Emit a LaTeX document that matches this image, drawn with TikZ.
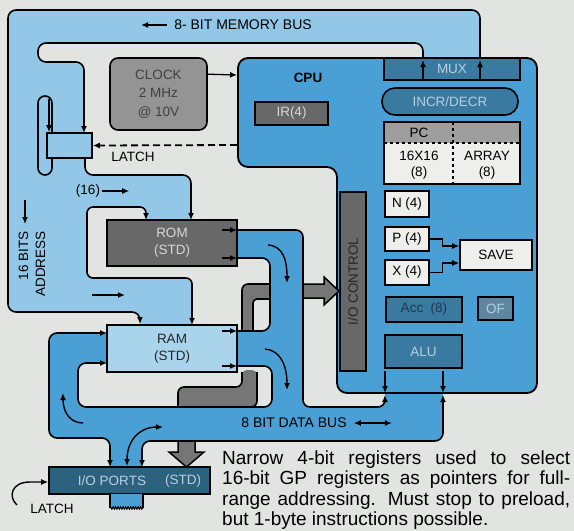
\documentclass[tikz,border=0pt]{standalone}
\usepackage{fontspec}
\setmainfont{Liberation Sans}
\usetikzlibrary{arrows.meta, positioning, calc, decorations.pathmorphing}

\definecolor{paper}{RGB}{226,228,225}
\definecolor{addrblue}{RGB}{146,199,231}
\definecolor{busblue}{RGB}{74,159,213}
\definecolor{ramblue}{RGB}{170,212,236}
\definecolor{regblue}{RGB}{58,121,160}
\definecolor{portblue}{RGB}{45,98,127}
\definecolor{ofblue}{RGB}{92,134,162}
\definecolor{romgray}{RGB}{104,104,104}
\definecolor{clockgray}{RGB}{148,148,148}
\definecolor{bandgray}{RGB}{118,118,118}
\definecolor{pcgray}{RGB}{158,158,158}
\definecolor{boxwhite}{RGB}{238,238,236}
\definecolor{greytext}{RGB}{214,214,214}
\definecolor{palebluetext}{RGB}{182,208,224}
\definecolor{navytext}{RGB}{28,58,82}

\tikzset{
  arr/.style={-{Latex[length=7pt,width=6pt]}},
  rarr/.style={{Latex[length=7pt,width=6pt]}-},
  darr/.style={{Latex[length=7pt,width=6pt]}-{Latex[length=7pt,width=6pt]}},
  box/.style={draw=black, line width=1.6pt, inner sep=0pt, align=center,
    font=\fontsize{13.5}{17}\selectfont},
  busline/.style={draw=black, line width=1.6pt, rounded corners=8pt},
  lbl/.style={inner sep=0pt, align=center, font=\fontsize{13.5}{17}\selectfont},
}

\begin{document}
\begin{tikzpicture}[x=1pt, y=-1pt]
  \useasboundingbox (0,0) rectangle (574,531);
  \fill[paper] (0,0) rectangle (574,531);

  % Address bus area
  \fill[addrblue, rounded corners=8pt] (8,10) -- (480,10) -- (480,70) -- (423,70)
    -- (423,43) -- (38,43) -- (38,62) -- (84,62) -- (84,175) -- (191,175)
    -- (191,232) -- (146,232) -- (146,207) -- (87,207) -- (87,278) -- (192,278)
    -- (192,337) -- (140,337) -- (140,312) -- (8,312) -- cycle;

  % Data bus area
  \fill[busblue, rounded corners=8pt] (228,230) -- (303,230) -- (303,407) -- (385,407)
    -- (385,385) -- (443,385) -- (443,441) -- (142,441) -- (142,475) -- (110,475)
    -- (110,438) -- (49,438) -- (49,333) -- (115,333) -- (115,345) -- (230,345)
    -- (230,331) -- (270,331) -- (270,258) -- (228,258) -- cycle;
  \fill[paper, rounded corners=8pt] (115,363) -- (78,363) -- (78,407) -- (272,407)
    -- (272,366) -- (228,366) -- cycle;

  % I/O bus, passing under the data bus
  \fill[bandgray, rounded corners=5pt] (242,331) -- (242,284) -- (270,284) -- (270,299)
    -- (253,299) -- (253,331) -- cycle;
  \draw[line width=1.6pt, rounded corners=6pt] (270,284) -- (242,284) -- (242,331);
  \draw[line width=1.6pt, rounded corners=4pt] (270,299) -- (253,299) -- (253,331);
  \fill[bandgray, rounded corners=5pt] (242,370) -- (257,370) -- (257,407) -- (178,407)
    -- (178,387) -- (242,387) -- cycle;
  \draw[line width=1.6pt, rounded corners=6pt] (242,372) -- (242,387) -- (178,387) -- (178,407);
  \draw[line width=1.6pt, rounded corners=6pt] (257,372) -- (257,407) -- (245,407);
  \fill[bandgray] (178,441) -- (178,452) -- (169,452) -- (186.5,467) -- (204,452)
    -- (195,452) -- (195,441) -- cycle;
  \draw[line width=1.5pt] (178,441) -- (178,452) -- (169,452) -- (186.5,467) -- (204,452)
    -- (195,452) -- (195,441);

  % CPU
  \draw[fill=busblue, line width=1.8pt, rounded corners=10pt] (238,58) -- (537,58)
    -- (537,393) -- (337,393) -- (337,167) -- (238,167) -- cycle;
  \node[lbl, font=\bfseries\fontsize{13.5}{17}\selectfont] (cpulbl) at (308,78) {CPU};

  % Boxes
  \node[box, fill=clockgray, text=black!75, rounded corners=8pt, minimum width=97pt,
    minimum height=72pt, font=\fontsize{13.5}{18.5}\selectfont] (clock) at (158.5,94)
    {CLOCK\\2 MHz\\@ 10V};
  \node[box, fill=addrblue, rounded corners=7pt, minimum width=14pt, minimum height=79pt]
    (pill) at (45,135.5) {};
  \node[box, fill=addrblue, minimum width=45pt, minimum height=25pt] (latch) at (69.5,145.5) {};
  \node[box, fill=romgray, text=greytext, minimum width=130pt, minimum height=46pt]
    (rom) at (172,243) {ROM\\(STD)};
  \node[box, fill=ramblue, text=black!85, minimum width=130pt, minimum height=47pt]
    (ram) at (172,348.5) {RAM\\(STD)};
  \node[box, fill=portblue, minimum width=161pt, minimum height=27pt] (ports) at (129.5,480.5) {};
  \node[lbl, text=palebluetext] (portsl) at (112,480.5) {I/O PORTS};
  \node[lbl, text=palebluetext] (portss) at (183,480.5) {(STD)};
  \node[box, fill=romgray, text=greytext, minimum width=73pt, minimum height=23pt]
    (ir) at (291.5,113.5) {IR(4)};
  \node[box, fill=romgray, text=black!85, rotate=90, minimum width=179pt, minimum height=26pt]
    (ioctl) at (353,281.5) {I/O CONTROL};
  \node[box, fill=regblue, text=palebluetext, minimum width=136pt, minimum height=22pt]
    (mux) at (452,69) {MUX};
  \node[box, fill=regblue, text=palebluetext, rounded corners=13pt, minimum width=136pt,
    minimum height=27pt] (incdec) at (450,101.5) {INCR/DECR};

  % PC / register array
  \node[box, fill=boxwhite, minimum width=136pt, minimum height=62pt] (pcarr) at (452,153) {};
  \fill[pcgray] (384,122) rectangle (520,143);
  \draw[line width=1.6pt] (384,122) rectangle (520,184);
  \draw[line width=1.2pt, dashed] (384,143) -- (520,143);
  \draw[line width=1.2pt, dashed] (453,122) -- (453,184);
  \node[lbl] (pclbl) at (419,133) {PC};
  \node[lbl, font=\fontsize{13.5}{16}\selectfont] (arrl) at (419,165) {16X16\\(8)};
  \node[lbl, font=\fontsize{13.5}{16}\selectfont] (arrr) at (487,165) {ARRAY\\(8)};

  \node[box, fill=boxwhite, minimum width=44pt, minimum height=26pt] (nreg) at (407,204) {N (4)};
  \node[box, fill=boxwhite, minimum width=44pt, minimum height=24pt] (preg) at (407,239) {P (4)};
  \node[box, fill=boxwhite, minimum width=44pt, minimum height=25pt] (xreg) at (407,272.5) {X (4)};
  \node[box, fill=boxwhite, minimum width=72pt, minimum height=30pt] (save) at (496,255) {SAVE};
  \node[box, fill=regblue, text=navytext, minimum width=76pt, minimum height=25pt]
    (acc) at (424,309.5) {Acc\ \ (8)};
  \node[box, fill=ofblue, text=palebluetext, minimum width=35pt, minimum height=23pt]
    (of) at (495.5,308.5) {OF};
  \node[box, fill=regblue, text=palebluetext, minimum width=77pt, minimum height=33pt]
    (alu) at (423.5,351.5) {ALU};
  \draw[line width=1.3pt, arr] (preg.east) -- ++(13,0) |- ($(save.west)+(0,-9)$);
  \draw[line width=1.3pt, arr] (xreg.east) -- ++(13,0) |- ($(save.west)+(0,8)$);

  % Address bus edges
  \draw[busline, arr] (480,58) -- (480,10) -- (8,10) -- (8,312) -- (140,312) -- (140,324);
  \draw[busline, arr] (423,58) -- (423,43) -- (38,43) -- (38,62) -- (84,62) -- (84,133);
  \draw[busline, arr] (85,158) -- (85,175) -- (191,175) -- (191,220);
  \draw[busline, rounded corners=6pt, darr] (146,220) -- (146,207) -- (87,207) -- (87,278)
    -- (192,278) -- (192,325);
  \foreach \xx in {423,480} \draw[line width=1.4pt, arr] (\xx,79) -- (\xx,60);
  \draw[line width=1.4pt, arr] (49,99) -- (latch.north -| 49,0);
  \draw[line width=1.3pt, arr] ($(clock.north east)+(0,17)$) -- (237,75);
  \draw[line width=1.8pt, dash pattern=on 7pt off 4pt, arr] (237,145) -- (latch.east);

  % Data bus edges
  \draw[busline, rounded corners=7pt, arr] (237,230) -- (303,230) -- (303,407) -- (385,407)
    -- (385,395);
  \draw[busline] (237,258) -- (270,258) -- (270,331) -- (237,331);
  \draw[busline, darr] (107,333) -- (49,333) -- (49,438) -- (110,438) -- (110,467);
  \draw[busline, rarr] (107,363) -- (78,363) -- (78,407) -- (272,407) -- (272,366) -- (237,366);
  \draw[busline, darr] (443,395) -- (443,441) -- (142,441) -- (142,467);
  \filldraw[fill=bandgray, line width=1.5pt] (303,284) -- (324,284) -- (324,277) -- (339,291)
    -- (324,305) -- (324,298) -- (303,298) -- cycle;
  \foreach \yy in {230,258,331,366} \draw[line width=1.3pt, arr] (222,\yy) -- (237,\yy);
  \foreach \xx in {385,443} \draw[line width=1.4pt, arr] (\xx,371) -- (\xx,393);

  % Flow arrows
  \draw[line width=1.4pt, arr] (268,245) .. controls (283,246) and (287,260) .. (287,283);
  \draw[line width=1.4pt, arr] (265,349) .. controls (280,350) and (287,365) .. (287,390);
  \draw[line width=1.4pt, arr] (83,423) .. controls (70,423) and (63,412) .. (63,393);
  \draw[line width=1.4pt, darr] (127,466) .. controls (127,440) and (140,427) .. (163,427);

  % I/O ports tab and latch line
  \fill[busblue] (110,494) rectangle (143,508);
  \draw[line width=1.5pt] (110,494) -- (110,508);
  \draw[line width=1.5pt] (143,494) -- (143,508);
  \draw[line width=1.2pt, decorate, decoration={zigzag, segment length=2.5pt, amplitude=1pt}]
    (110,508) -- (143,508);
  \draw[line width=1.4pt, arr] (17,505) .. controls (8,497) and (11,482) .. (30,482) -- (ports.west |- 0,482);

  % Labels
  \node[lbl, font=\fontsize{14}{17}\selectfont] (membus) at (243,25) {8- BIT MEMORY BUS};
  \draw[line width=1.3pt, arr] (membus.west) ++(-7,0) -- ++(-26,0);
  \node[lbl] (latchlbl) at (133,157) {LATCH};
  \node[lbl] (sixteen) at (88,191) {(16)};
  \draw[line width=1.3pt, arr] (sixteen.east) ++(2,0) -- ++(27,0);
  \node[lbl, rotate=90, align=right] (addrlbl) at (32,264) {16 BITS\\ADDRESS};
  \draw[line width=1.3pt, arr] (25,200) -- (25,224);
  \draw[line width=1.3pt, arr] (92,295) -- (125,295);
  \node[lbl, font=\fontsize{14}{17}\selectfont] (databus) at (294,423) {8 BIT DATA BUS};
  \draw[line width=1.3pt, darr] (databus.east) ++(7,0) -- ++(38,0);
  \node[lbl] (portlatch) at (52,509) {LATCH};

  % Caption
  \foreach \i/\t in {0/{Narrow 4-bit registers used to select},
                     1/{16-bit GP registers as pointers for full-},
                     2/{range addressing. Must stop to preload,}}
    \node[anchor=base west, inner sep=0pt, font=\fontsize{19}{21}\selectfont]
      (cap\i) at (222,464+20.5*\i) {\hbox to 348pt{\t}};
  \node[anchor=base west, inner sep=0pt, font=\fontsize{19}{21}\selectfont]
    (cap3) at (222,525.5) {but 1-byte instructions possible.};
\end{tikzpicture}
\end{document}
